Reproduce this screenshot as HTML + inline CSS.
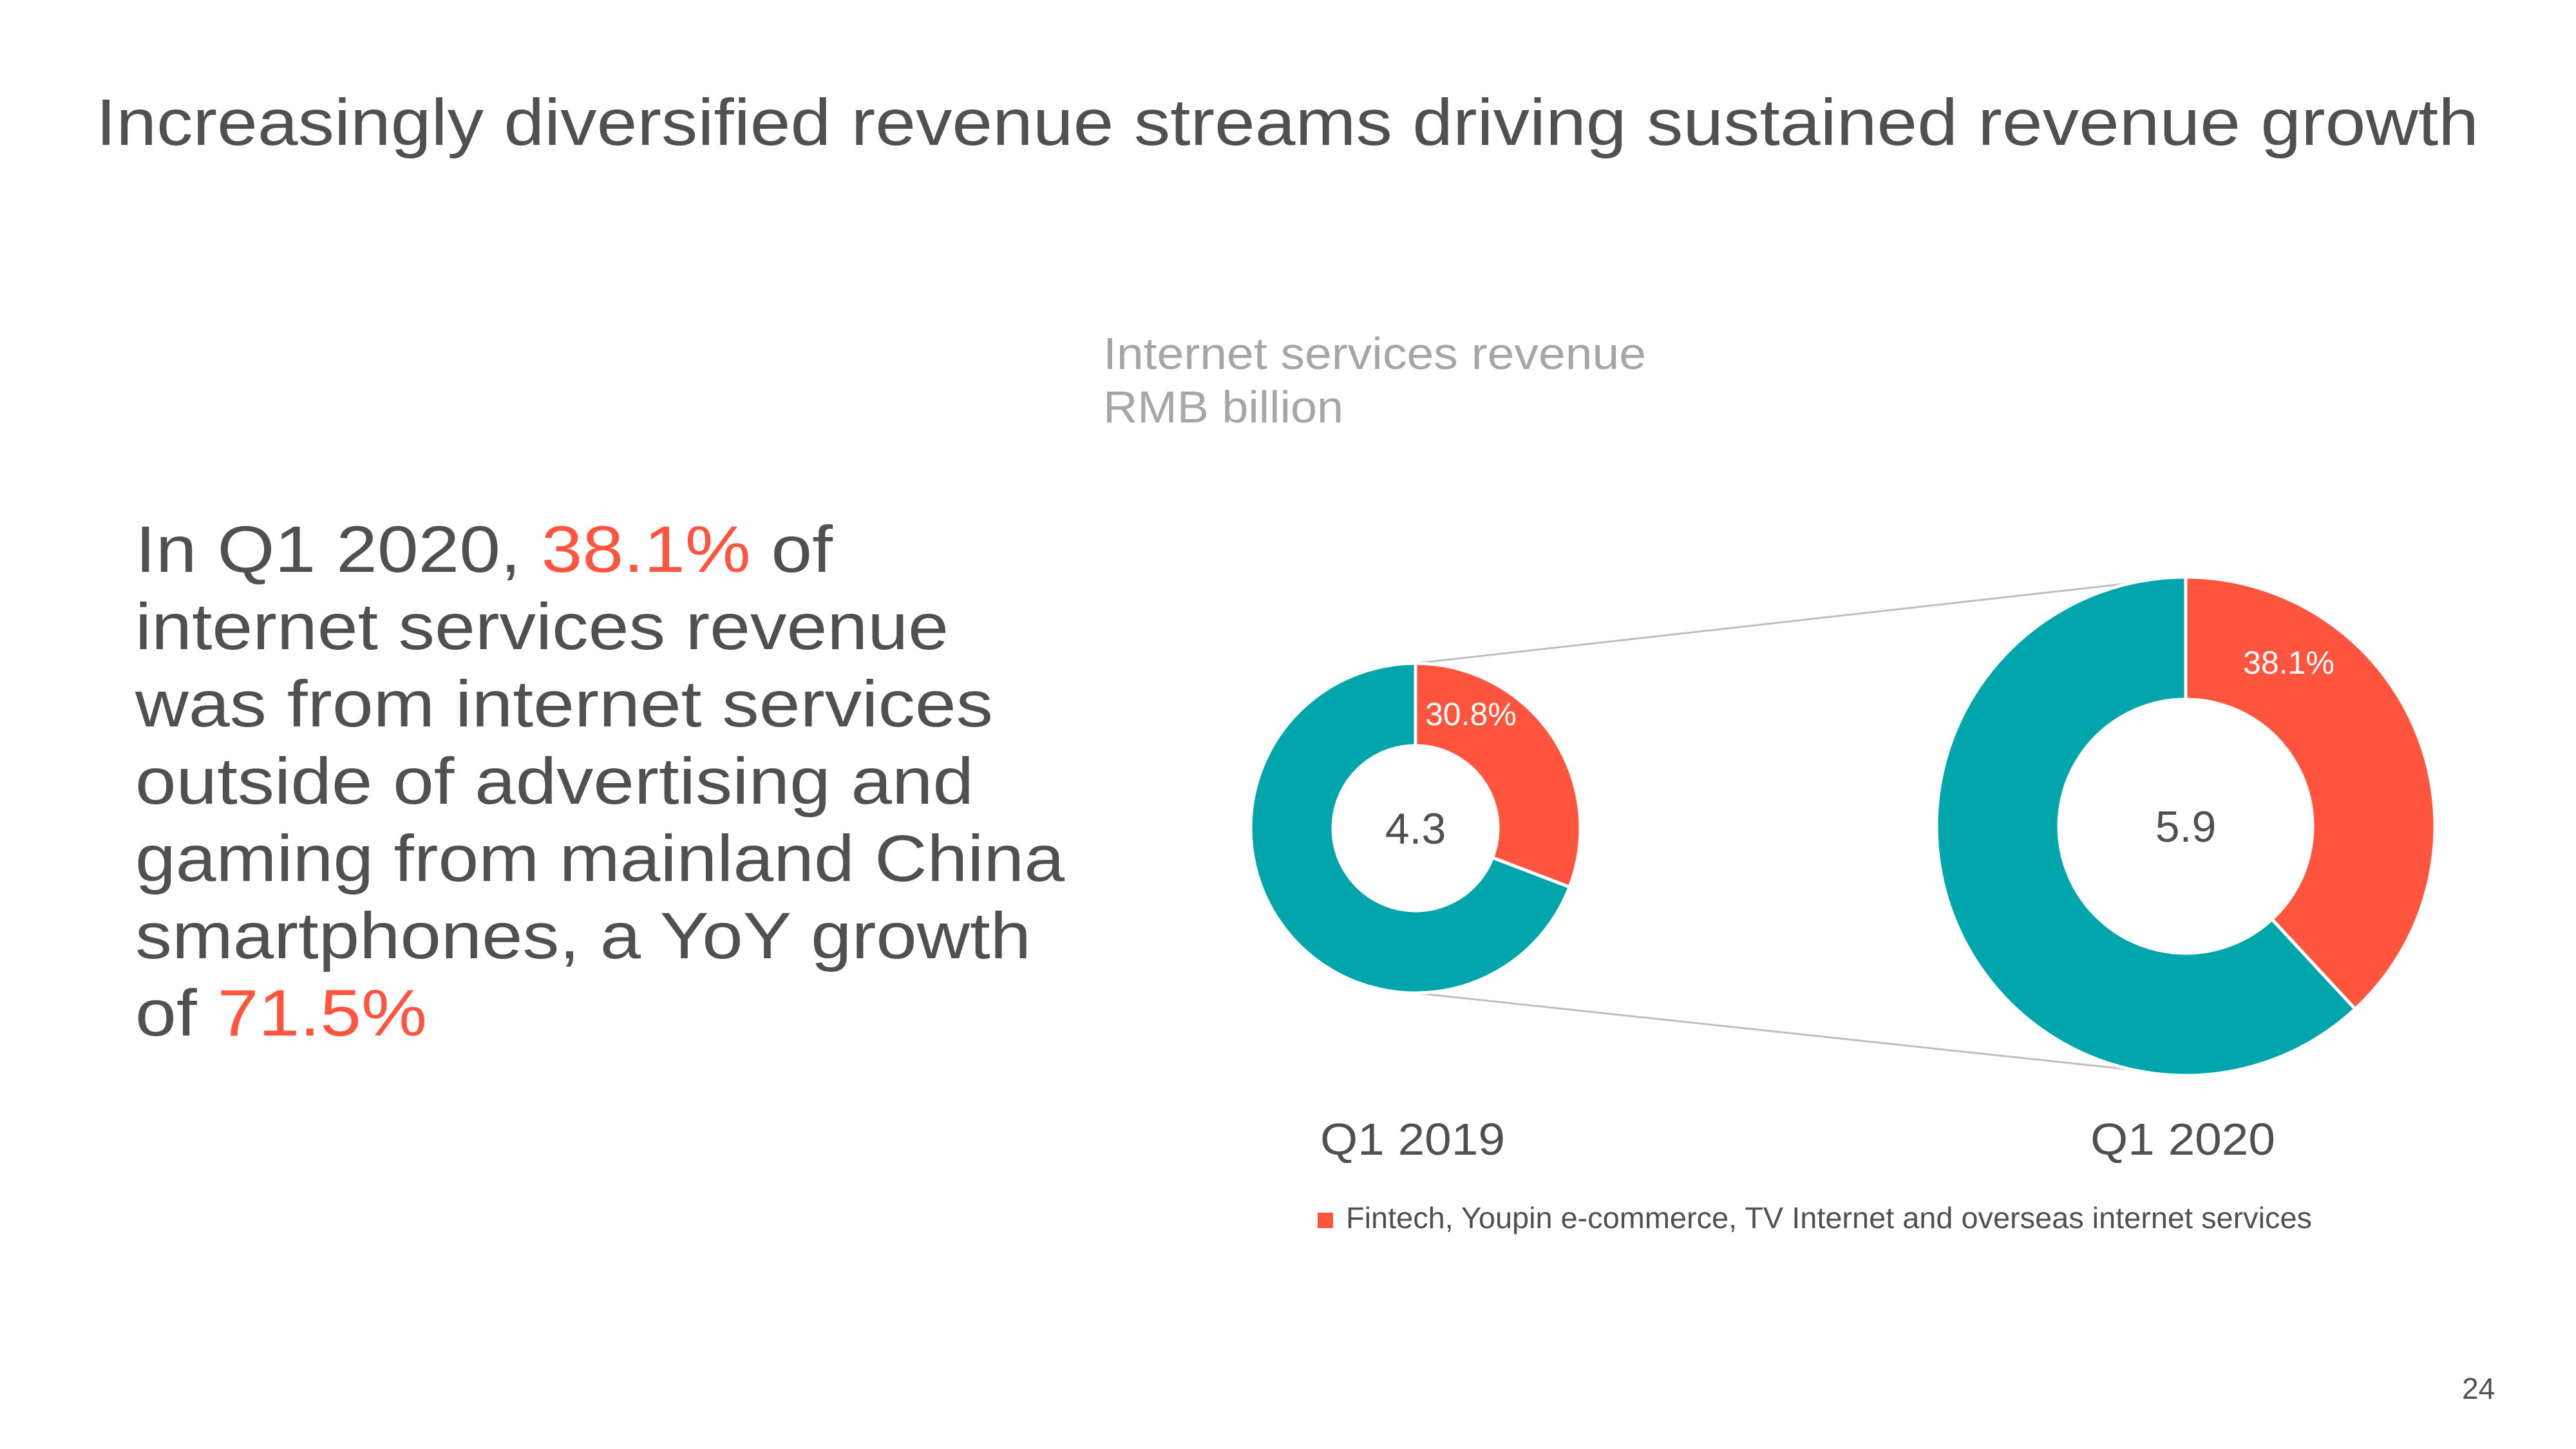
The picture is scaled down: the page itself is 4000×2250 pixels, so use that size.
<!DOCTYPE html>
<html><head><meta charset="utf-8"><style>
html,body{margin:0;padding:0;background:#fff;}
svg{display:block;font-family:"Liberation Sans",sans-serif;}
</style></head><body>
<svg id="chart" width="4000" height="2250" viewBox="0 0 4000 2250">
<text x="149" y="225" font-size="102" fill="#505050" textLength="3700" lengthAdjust="spacingAndGlyphs">Increasingly diversified revenue streams driving sustained revenue growth</text>
<text x="1713" y="573" font-size="70" fill="#a6a6a6" textLength="843" lengthAdjust="spacingAndGlyphs">Internet services revenue</text>
<text x="1713" y="656" font-size="70" fill="#a6a6a6" textLength="373" lengthAdjust="spacingAndGlyphs">RMB billion</text>
<g font-size="102" fill="#505050">
<text x="210" y="888" textLength="1083" lengthAdjust="spacingAndGlyphs">In Q1 2020, <tspan fill="#ff553f">38.1%</tspan> of</text>
<text x="210" y="1008" textLength="1263" lengthAdjust="spacingAndGlyphs">internet services revenue</text>
<text x="210" y="1128" textLength="1332" lengthAdjust="spacingAndGlyphs">was from internet services</text>
<text x="210" y="1248" textLength="1302" lengthAdjust="spacingAndGlyphs">outside of advertising and</text>
<text x="210" y="1368" textLength="1443" lengthAdjust="spacingAndGlyphs">gaming from mainland China</text>
<text x="210" y="1488" textLength="1391" lengthAdjust="spacingAndGlyphs">smartphones, a YoY growth</text>
<text x="210" y="1608" textLength="453" lengthAdjust="spacingAndGlyphs">of <tspan fill="#ff553f">71.5%</tspan></text>
</g>
<g id="donuts"></g>
<rect x="2046" y="1883" width="24" height="24" fill="#ff553f"/>
<text x="2090" y="1907" font-size="46" fill="#505050" textLength="1500" lengthAdjust="spacingAndGlyphs">Fintech, Youpin e-commerce, TV Internet and overseas internet services</text>
<text x="3823" y="2172" font-size="46" fill="#505050">24</text>
</svg>
<script>
const periods = ["Q1 2019", "Q1 2020"];
const totals = [4.3, 5.9];
const otherShare = [30.8, 38.1];
const centers = [[2198, 1286], [3394, 1283]];
const outerR = [256, 387];
const innerR = [128, 197];
const NS = "http://www.w3.org/2000/svg";
const g = document.getElementById("donuts");
function mk(tag, attrs) { const e = document.createElementNS(NS, tag); for (const k in attrs) e.setAttribute(k, attrs[k]); g.appendChild(e); return e; }
function pt(cx, cy, r, frac) { const a = frac * 2 * Math.PI - Math.PI / 2; return [cx + r * Math.cos(a), cy + r * Math.sin(a)]; }
function arc(cx, cy, ro, ri, f0, f1) {
  const large = (f1 - f0) > 0.5 ? 1 : 0;
  const a = pt(cx, cy, ro, f0), b = pt(cx, cy, ro, f1), c = pt(cx, cy, ri, f1), d = pt(cx, cy, ri, f0);
  return `M${a[0]},${a[1]} A${ro},${ro} 0 ${large} 1 ${b[0]},${b[1]} L${c[0]},${c[1]} A${ri},${ri} 0 ${large} 0 ${d[0]},${d[1]} Z`;
}
const l1 = mk("line", {x1: centers[0][0], y1: centers[0][1] - outerR[0], x2: centers[1][0], y2: centers[1][1] - outerR[1], stroke: "#bfbfbf", "stroke-width": 3});


const l2 = mk("line", {x1: centers[0][0], y1: centers[0][1] + outerR[0], x2: centers[1][0], y2: centers[1][1] + outerR[1], stroke: "#bfbfbf", "stroke-width": 3});


periods.forEach((p, i) => {
  const [cx, cy] = centers[i];
  const f = otherShare[i] / 100;
  const teal = mk("path", {d: arc(cx, cy, outerR[i], innerR[i], f, 0.99999), fill: "#00a6ac", stroke: "#fff", "stroke-width": 5});
  
  
  const red = mk("path", {d: arc(cx, cy, outerR[i], innerR[i], 0, f), fill: "#ff553f", stroke: "#fff", "stroke-width": 5});
  
  
  const pl = mk("text", {x: i === 0 ? cx + 15 : cx + 160, y: i === 0 ? cy - 160 : cy - 237, "font-size": 50, fill: "#fff", "text-anchor": i === 0 ? "start" : "middle"});
  pl.textContent = otherShare[i].toFixed(1) + "%";
  
  
  const tl = mk("text", {x: cx, y: cy + 24, "font-size": 68, fill: "#505050", "text-anchor": "middle"});
  tl.textContent = totals[i].toFixed(1);
  
  
  const cl = mk("text", {x: cx - 148, y: 1793, "font-size": 70, fill: "#505050", textLength: 287, lengthAdjust: "spacingAndGlyphs"});
  cl.textContent = p;
  
  
});
</script>
</body></html>
